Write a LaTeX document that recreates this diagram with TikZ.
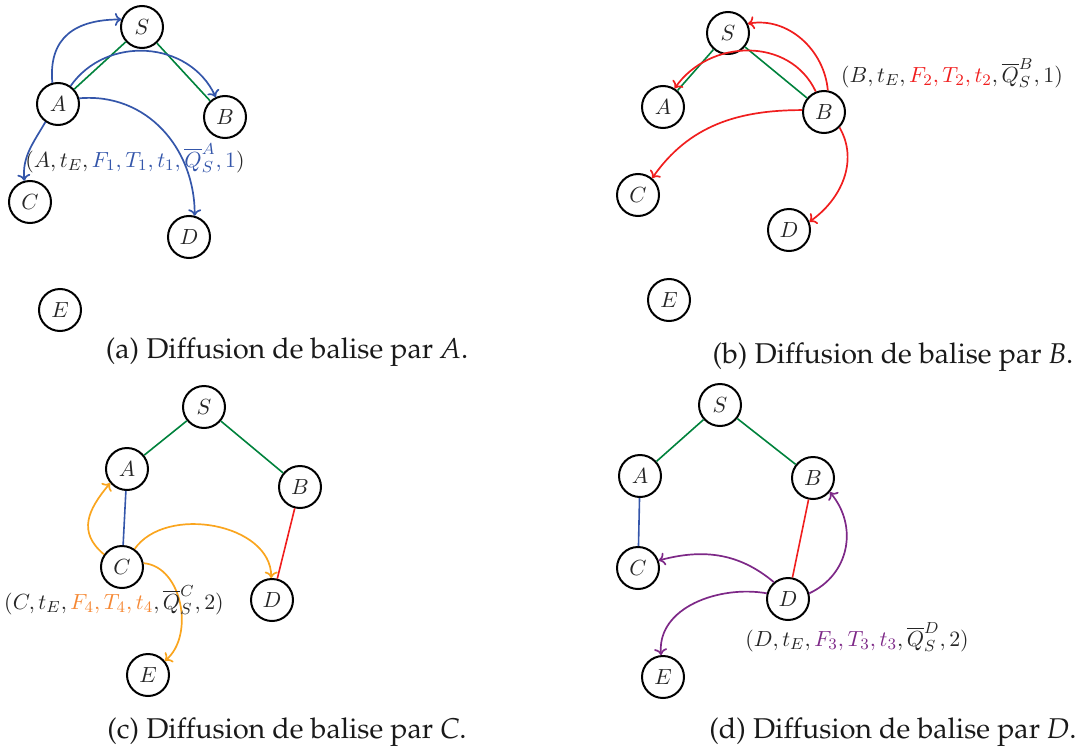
\documentclass[tikz,border=0pt]{standalone}
\usetikzlibrary{arrows.meta}
\definecolor{cblue}{RGB}{52,86,170}
\definecolor{cgreen}{RGB}{0,130,60}
\definecolor{cred}{RGB}{240,30,30}
\definecolor{corange}{RGB}{250,165,30}
\definecolor{corangetxt}{RGB}{245,135,50}
\definecolor{cpurple}{RGB}{125,40,135}
\tikzset{
  nd/.style={circle,draw=black,line width=1pt,minimum size=21pt,inner sep=0pt,font=\fontsize{11}{13}\selectfont,text=black!85},
  ln/.style={line width=0.8pt},
  ar/.style={line width=0.85pt,-{To[length=3.2pt,width=6.5pt]}},
  lab/.style={font=\fontsize{11}{13}\selectfont,text=black!85,inner sep=0pt},
  captxt/.style={font=\fontencoding{T1}\fontfamily{ppl}\fontsize{14.3}{17}\selectfont,text=black!90,inner sep=0pt}
}
\begin{document}
\begin{tikzpicture}
\useasboundingbox (0,0) rectangle (540pt,-374.5pt);
\begin{scope}[x=0.5pt,y=0.5pt]
% ---------- (a)
\node[nd] (aS) at (142,-27) {$S$};
\node[nd] (aA) at (58,-104) {$A$};
\node[nd] (aB) at (225,-117) {$B$};
\node[nd] (aC) at (30,-202) {$C$};
\node[nd] (aD) at (189,-237) {$D$};
\node[nd] (aE) at (60,-310) {$E$};
\draw[ln,cgreen] (aS) -- (aA);
\draw[ln,cgreen] (aS) -- (aB);
\draw[ar,cblue] (aA.105) to[out=95,in=180,looseness=1.25] (aS.160);
\draw[ar,cblue] (aA.55) to[out=55,in=115,looseness=1.1] (aB.115);
\draw[ar,cblue] (aA.15) to[out=5,in=90,looseness=1.05] (aD.75);
\draw[ar,cblue] (aA.235) to[out=240,in=95] (aC.105);
\node[lab] (aL) at (135,-158) {$(A,t_E,\textcolor{cblue}{F_1,T_1,t_1,\overline{Q}_S^A,1})$};
\node[captxt] (aCap) at (287,-352) {(a) Diffusion de balise par \textit{A}.};
% ---------- (b)
\node[nd] (bS) at (728,-33) {$S$};
\node[nd] (bA) at (663,-107) {$A$};
\node[nd] (bB) at (824,-112) {$B$};
\node[nd] (bC) at (638,-195) {$C$};
\node[nd] (bD) at (789,-230) {$D$};
\node[nd] (bE) at (669,-300) {$E$};
\draw[ln,cgreen] (bS) -- (bA);
\draw[ln,cgreen] (bS) -- (bB);
\draw[ar,cred] (bB.80) to[out=95,in=10] (bS.25);
\draw[ar,cred] (bB.112) to[out=115,in=55,looseness=1.1] (bA.58);
\draw[ar,cred] (bB.175) to[out=180,in=55] (bC.50);
\draw[ar,cred] (bB.-45) to[out=-60,in=35] (bD.22);
\node[lab] (bL) at (952,-73) {$(B,t_E,\textcolor{cred}{F_2,T_2,t_2},\overline{Q}_S^B,1)$};
\node[captxt] (bCap) at (893,-357) {(b) Diffusion de balise par \textit{B}.};
% ---------- (c)
\node[nd] (cS) at (204,-407) {$S$};
\node[nd] (cA) at (127,-469) {$A$};
\node[nd] (cB) at (300,-487) {$B$};
\node[nd] (cC) at (122,-567) {$C$};
\node[nd] (cD) at (272,-600) {$D$};
\node[nd] (cE) at (148,-675) {$E$};
\draw[ln,cgreen] (cS) -- (cA);
\draw[ln,cgreen] (cS) -- (cB);
\draw[ln,cblue] (cA) -- (cC);
\draw[ln,cred] (cB) -- (cD);
\draw[ar,corange] (cC.145) to[out=140,in=230,looseness=1.25] (cA.220);
\draw[ar,corange] (cC.55) to[out=55,in=90] (cD.92);
\draw[ar,corange] (cC.10) to[out=-5,in=40] (cE.40);
\node[lab] (cL) at (114,-600) {$(C,t_E,\textcolor{corangetxt}{F_4,T_4,t_4},\overline{Q}_S^C,2)$};
\node[captxt] (cCap) at (287,-732) {(c) Diffusion de balise par \textit{C}.};
% ---------- (d)
\node[nd] (dS) at (720,-405) {$S$};
\node[nd] (dA) at (640,-476) {$A$};
\node[nd] (dB) at (813,-478) {$B$};
\node[nd] (dC) at (638,-568) {$C$};
\node[nd] (dD) at (788,-599) {$D$};
\node[nd] (dE) at (663,-677) {$E$};
\draw[ln,cgreen] (dS) -- (dA);
\draw[ln,cgreen] (dS) -- (dB);
\draw[ln,cblue] (dA) -- (dC);
\draw[ln,cred] (dB) -- (dD);
\draw[ar,cpurple] (dD.130) to[out=140,in=15] (dC.20);
\draw[ar,cpurple] (dD.165) to[out=170,in=95] (dE.95);
\draw[ar,cpurple] (dD.15) to[out=25,in=-50,looseness=1.1] (dB.-40);
\node[lab] (dL) at (857,-637) {$(D,t_E,\textcolor{cpurple}{F_3,T_3,t_3},\overline{Q}_S^D,2)$};
\node[captxt] (dCap) at (893,-732) {(d) Diffusion de balise par \textit{D}.};
\end{scope}
\end{tikzpicture}
\end{document}
